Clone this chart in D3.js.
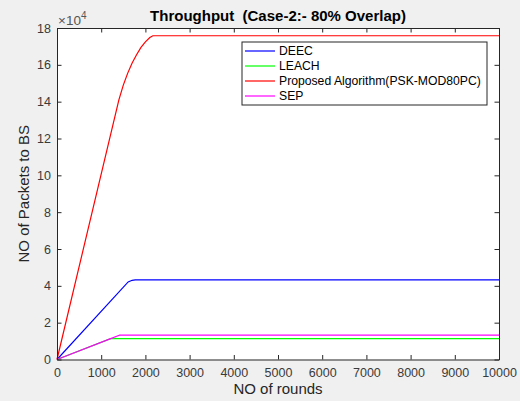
<!DOCTYPE html>
<html>
<head>
<meta charset="utf-8">
<script src="https://cdn.jsdelivr.net/npm/d3@7"></script>
<style>
  body { margin: 0; background: #f0f0f0; }
  svg { display: block; font-family: "Liberation Sans", Arial, Helvetica, sans-serif; }
</style>
</head>
<body>
<div id="chart"></div>
<script>
// rounds vs packets to BS
const deecRounds = [0, 1610, 1700, 1770, 10000];
const deecPackets = [0, 42100, 43000, 43200, 43200];

const leachRounds = [0, 1200, 1230, 10000];
const leachPackets = [0, 11200, 11300, 11300];

const proposedRounds = [0, 1400, 1500, 1600, 1700, 1800, 1900, 2000, 2100, 2170, 10000];
const proposedPackets = [0, 141000, 149000, 155500, 161000, 165500, 169500, 172500, 174800, 175800, 175800];

const sepRounds = [0, 1200, 1380, 1420, 10000];
const sepPackets = [0, 11200, 12900, 13200, 13200];

const seriesNames = ["DEEC", "LEACH", "Proposed Algorithm(PSK-MOD80PC)", "SEP"];
const seriesColors = ["#0000ff", "#00ff00", "#ff0000", "#ff00ff"];

const xTicks = d3.range(0, 10001, 1000);
const yTicks = d3.range(0, 18.01, 2);

const width = 520, height = 401;
const margin = { top: 28, right: 21, bottom: 41.5, left: 57 };

const svg = d3.select("#chart").append("svg")
    .attr("width", width)
    .attr("height", height);

svg.append("rect").attr("width", width).attr("height", height).attr("fill", "#f0f0f0");

const x = d3.scaleLinear().domain([0, 10000]).range([margin.left, width - margin.right]);
const y = d3.scaleLinear().domain([0, 18]).range([height - margin.bottom, margin.top]);

// white axes area
svg.append("rect")
    .attr("x", x(0)).attr("y", y(18))
    .attr("width", x(10000) - x(0)).attr("height", y(0) - y(18))
    .attr("fill", "#fff");

const series = [
    { r: deecRounds, p: deecPackets },
    { r: leachRounds, p: leachPackets },
    { r: proposedRounds, p: proposedPackets },
    { r: sepRounds, p: sepPackets }
];

const line = d3.line()
    .x(d => x(d[0]))
    .y(d => y(d[1] / 1e4));

series.forEach((s, i) => {
    const pts = s.r.map((r, j) => [r, s.p[j]]);
    svg.append("path")
        .attr("d", line(pts))
        .attr("fill", "none")
        .attr("stroke", seriesColors[i])
        .attr("stroke-width", 1.2);
});

// axes, MATLAB style with inward ticks
const axisColor = "#262626";
const tickLen = 4.5;

const bottomAxis = svg.append("g")
    .attr("transform", `translate(0,${y(0)})`)
    .call(d3.axisBottom(x).tickValues(xTicks).tickSizeInner(-tickLen).tickSizeOuter(0).tickPadding(9).tickFormat(d3.format("d")));
const topAxis = svg.append("g")
    .attr("transform", `translate(0,${y(18)})`)
    .call(d3.axisTop(x).tickValues(xTicks).tickSizeInner(-tickLen).tickSizeOuter(0).tickFormat(""));
const leftAxis = svg.append("g")
    .attr("transform", `translate(${x(0)},0)`)
    .call(d3.axisLeft(y).tickValues(yTicks).tickSizeInner(-tickLen).tickSizeOuter(0).tickPadding(6).tickFormat(d3.format("d")));
const rightAxis = svg.append("g")
    .attr("transform", `translate(${x(10000)},0)`)
    .call(d3.axisRight(y).tickValues(yTicks).tickSizeInner(-tickLen).tickSizeOuter(0).tickFormat(""));

[bottomAxis, topAxis, leftAxis, rightAxis].forEach(g => {
    g.select(".domain").attr("stroke", axisColor).attr("stroke-width", 1);
    g.selectAll(".tick line").attr("stroke", axisColor);
    g.selectAll("text").attr("fill", "#3a3a3a").style("font-size", "12.5px").style("font-family", "inherit");
});

// exponent label
svg.append("text")
    .attr("x", x(0) + 1).attr("y", 25)
    .attr("fill", "#555")
    .style("font-size", "13.5px")
    .text("\u00d710")
    .append("tspan")
    .attr("dy", -6)
    .style("font-size", "10px")
    .text("4");

// title and axis labels
svg.append("text")
    .attr("x", (x(0) + x(10000)) / 2).attr("y", 21)
    .attr("text-anchor", "middle")
    .attr("fill", "#000")
    .style("font-size", "15px")
    .style("font-weight", "bold")
    .style("white-space", "pre")
    .text("Throughput  (Case-2:- 80% Overlap)");

svg.append("text")
    .attr("x", (x(0) + x(10000)) / 2).attr("y", 394)
    .attr("text-anchor", "middle")
    .attr("fill", axisColor)
    .style("font-size", "15px")
    .text("NO of rounds");

svg.append("text")
    .attr("transform", `translate(29,${(y(0) + y(18)) / 2}) rotate(-90)`)
    .attr("text-anchor", "middle")
    .attr("fill", axisColor)
    .style("font-size", "15px")
    .text("NO of Packets to BS");

// legend
const legend = svg.append("g").attr("transform", "translate(242,42)");
legend.append("rect")
    .attr("width", 245).attr("height", 63)
    .attr("fill", "#fff")
    .attr("stroke", axisColor)
    .attr("stroke-width", 1);

seriesNames.forEach((name, i) => {
    const row = legend.append("g").attr("transform", `translate(0,${9 + i * 15})`);
    row.append("line")
        .attr("x1", 3).attr("x2", 33)
        .attr("stroke", seriesColors[i])
        .attr("stroke-width", 1.2);
    row.append("text")
        .attr("x", 37).attr("dy", "0.36em")
        .attr("fill", "#000")
        .style("font-size", "12.2px")
        .text(name);
});
</script>
</body>
</html>
